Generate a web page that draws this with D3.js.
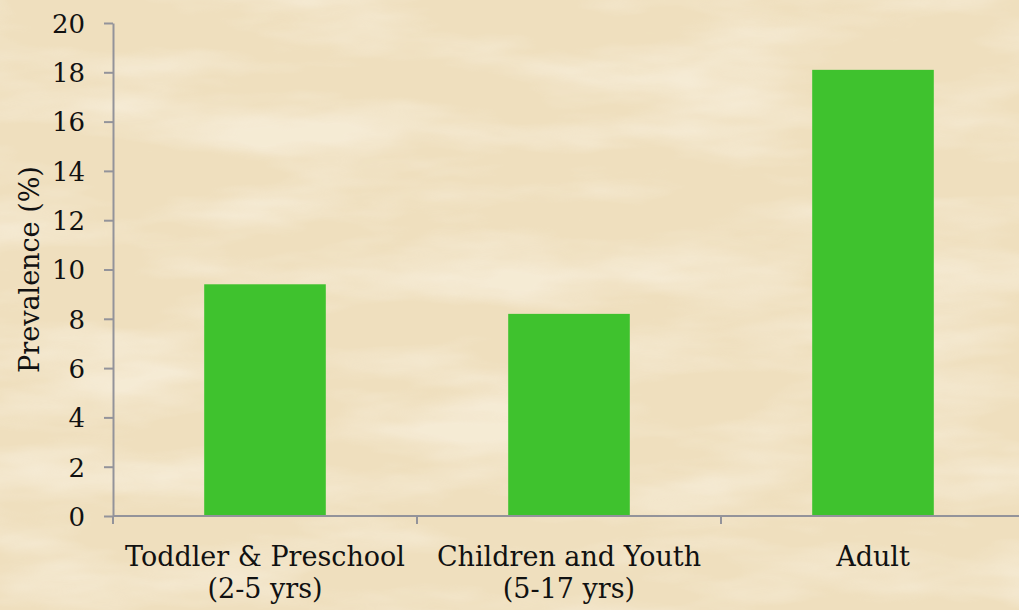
<!DOCTYPE html>
<html>
<head>
<meta charset="utf-8">
<script src="https://cdn.jsdelivr.net/npm/d3@7"></script>
<style>
  html, body { margin: 0; padding: 0; background: #efdfbe; overflow: hidden; }
  svg { display: block; }
  text { font-family: "DejaVu Serif", "Liberation Serif", serif; fill: #111; }
</style>
</head>
<body>
<svg id="chart" width="1019" height="610"></svg>
<script>
// data
const categories = ["Toddler & Preschool|(2-5 yrs)", "Children and Youth|(5-17 yrs)", "Adult"];
const prevalence = [9.4, 8.2, 18.1];
const y_ticks = [0, 2, 4, 6, 8, 10, 12, 14, 16, 18, 20];
const y_title = "Prevalence (%)";

const width = 1019, height = 610;
const margin = {left: 113, top: 23, bottom: 94};
const axis_color = "#93939a", bar_color = "#3fc22e";

const svg = d3.select("#chart");

// paper-ish background
const defs = svg.append("defs");
const f = defs.append("filter").attr("id", "paper").attr("x", 0).attr("y", 0).attr("width", "100%").attr("height", "100%");
f.append("feTurbulence").attr("type", "fractalNoise").attr("baseFrequency", "0.005 0.02").attr("numOctaves", 4).attr("seed", 7);
f.append("feColorMatrix").attr("type", "matrix")
  .attr("values", "0 0 0 0 1  0 0 0 0 0.98  0 0 0 0 0.93  0 0 -2.4 0 1.4");
svg.append("rect").attr("width", width).attr("height", height).attr("fill", "#efdfbe");
svg.append("rect").attr("width", width).attr("height", height).attr("filter", "url(#paper)").attr("opacity", 0.4);

const x = d3.scaleBand()
  .domain(categories)
  .range([margin.left, 1025])
  .paddingInner(0.6)
  .paddingOuter(0.3);

const y = d3.scaleLinear()
  .domain([0, 20])
  .range([height - margin.bottom, margin.top]);

// bars
svg.append("g").selectAll("rect")
  .data(categories)
  .join("rect")
  .attr("x", d => x(d))
  .attr("width", x.bandwidth())
  .attr("y", (d, i) => y(prevalence[i]))
  .attr("height", (d, i) => y(0) - y(prevalence[i]))
  .attr("fill", bar_color);

// y axis
const yAxis = svg.append("g")
  .attr("transform", `translate(${margin.left},0)`)
  .call(d3.axisLeft(y).tickValues(y_ticks).tickSize(9).tickPadding(19).tickSizeOuter(0));
yAxis.selectAll("line, path").attr("stroke", axis_color).attr("stroke-width", 2);
yAxis.selectAll("text").style("font-size", "26px").attr("dy", "0.36em").attr("fill", "#111");

// x axis: line with ticks at category boundaries
const step = x.step(), half_gap = step * x.paddingInner() / 2;
const bounds = categories.map(c => x(c) - half_gap).concat([x(categories[categories.length - 1]) + x.bandwidth() + half_gap]);
const xg = svg.append("g");
xg.append("line")
  .attr("x1", margin.left).attr("x2", width)
  .attr("y1", y(0)).attr("y2", y(0))
  .attr("stroke", axis_color).attr("stroke-width", 2);
xg.selectAll("line.tick")
  .data(bounds)
  .join("line")
  .attr("class", "tick")
  .attr("x1", d => d).attr("x2", d => d)
  .attr("y1", y(0)).attr("y2", y(0) + 8)
  .attr("stroke", axis_color).attr("stroke-width", 2);

const labels = xg.selectAll("text")
  .data(categories)
  .join("text")
  .attr("text-anchor", "middle")
  .attr("x", d => x(d) + x.bandwidth() / 2)
  .attr("y", y(0) + 50)
  .style("font-size", "27px");
labels.each(function(d) {
  const t = d3.select(this);
  d.split("|").forEach((line, i) => {
    t.append("tspan").attr("x", t.attr("x")).attr("dy", i ? 32 : 0).text(line);
  });
});

// y title
svg.append("text")
  .attr("transform", `translate(39,${(y(0) + y(20)) / 2}) rotate(-90)`)
  .attr("text-anchor", "middle")
  .style("font-size", "27px")
  .text(y_title);
</script>
</body>
</html>
